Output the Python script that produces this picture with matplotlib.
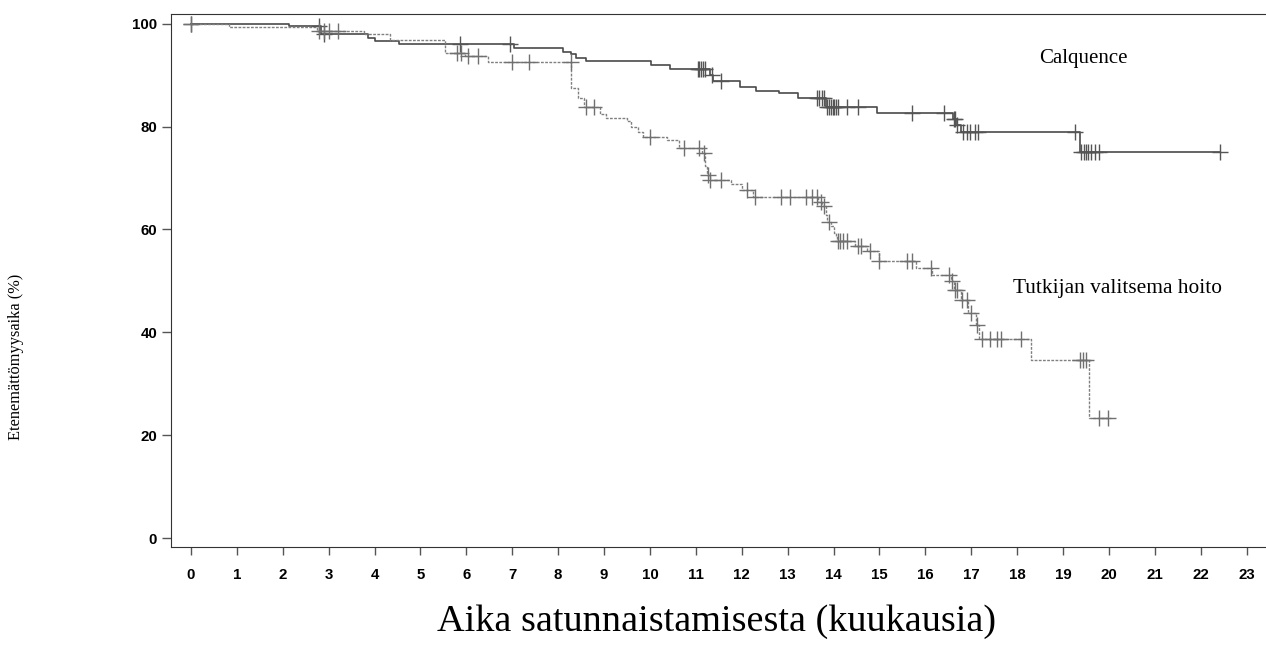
import numpy as np
import matplotlib
matplotlib.use('Agg')
import matplotlib.pyplot as plt

# Calquence (solid): event times (months) and survival (%)
calq_t = [0, 2.14, 2.83, 3.86, 4.0, 4.54, 7.03, 8.1, 8.27, 8.4, 8.6, 10.03, 10.43,
          11.3, 11.38, 11.97, 12.32, 12.82, 13.22, 13.83, 14.95, 16.6, 16.68, 16.77,
          19.37, 22.42]
calq_s = [100, 99.5, 98.0, 97.3, 96.6, 96.1, 95.3, 94.6, 94.2, 93.3, 92.8, 91.9, 91.3,
          90.0, 88.9, 87.8, 87.0, 86.5, 85.6, 83.9, 82.6, 81.4, 80.4, 78.9,
          75.0, 75.0]
calq_cens = [0, 2.8, 2.9, 5.87, 6.96, 11.04, 11.08, 11.12, 11.16, 11.2, 11.36, 11.54,
             13.63, 13.68, 13.74, 13.79, 13.86, 13.9, 13.94, 13.98, 14.02, 14.06, 14.1,
             14.3, 14.53, 15.7, 16.4, 16.62, 16.65, 16.7, 16.82, 16.9, 16.98, 17.08,
             17.15, 19.26, 19.4, 19.45, 19.5, 19.55, 19.62, 19.7, 19.78, 22.42]

# Tutkijan valitsema hoito (dashed)
tut_t = [0, 0.83, 2.75, 3.77, 4.33, 5.54, 5.98, 6.48, 8.29, 8.44, 8.57, 8.92, 9.05,
         9.49, 9.59, 9.75, 9.86, 10.38, 10.64, 11.14, 11.2, 11.24, 11.3, 11.76, 12.0,
         12.25, 13.66, 13.75, 13.83, 13.86, 13.94, 14.0, 14.05, 14.07, 14.46, 14.72,
         15.0, 15.79, 16.15, 16.55, 16.62, 16.77, 16.94, 17.1, 17.17, 18.31, 19.57, 20.05]
tut_s = [100, 99.3, 98.6, 98.0, 96.8, 94.4, 93.8, 92.5, 87.5, 85.6, 83.9, 82.5, 81.7,
         81.0, 80.0, 78.9, 77.9, 77.4, 75.9, 74.9, 72.3, 70.6, 69.6, 68.8, 67.7,
         66.4, 65.4, 64.6, 62.8, 61.5, 60.7, 59.3, 58.5, 57.7, 56.7, 55.9,
         53.9, 52.6, 51.2, 49.9, 48.2, 46.3, 43.7, 41.4, 38.7, 34.6, 23.3, 23.3]
tut_cens = [0, 2.8, 2.9, 3.0, 3.2, 5.79, 5.88, 6.03, 6.26, 7.0, 7.37, 8.27, 8.6, 8.79,
            10.0, 10.74, 11.06, 11.18, 11.26, 11.3, 11.54, 12.12, 12.28, 12.85, 13.06,
            13.41, 13.54, 13.65, 13.72, 13.8, 13.9, 14.1, 14.15, 14.2, 14.3, 14.53,
            14.59, 14.79, 15.0, 15.6, 15.7, 16.13, 16.51, 16.59, 16.64, 16.7, 16.8,
            16.9, 17.0, 17.13, 17.24, 17.42, 17.57, 17.64, 18.08, 19.37, 19.43, 19.5,
            19.78, 19.97]

x_ticks = list(range(0, 24))
y_ticks = [0, 20, 40, 60, 80, 100]


def surv_at(times, surv, cens):
    idx = np.searchsorted(times, cens, side='right') - 1
    return np.array(surv)[idx]


fig = plt.figure(figsize=(12.66, 6.57), dpi=100)
ax = fig.add_axes([0.135, 0.1674, 0.866, 0.8113])

ax.step(calq_t, calq_s, where='post', color='#4a4a4a', lw=1.2)
ax.step(tut_t, tut_s, where='post', color='#808080', lw=1.0, linestyle=(0, (2, 1)))
ax.plot(calq_cens, surv_at(calq_t, calq_s, calq_cens), '+', color='#555555',
        ms=12, mew=1.0)
ax.plot(tut_cens, surv_at(tut_t, tut_s, tut_cens), '+', color='#707070',
        ms=12, mew=1.0)

ax.set_xlim(-0.436, 23.45)
ax.set_ylim(-1.75, 101.9)
ax.set_xticks(x_ticks)
ax.set_yticks(y_ticks)
ax.spines['right'].set_visible(False)
for s in ax.spines.values():
    s.set_color('#333333')
ax.tick_params(axis='y', direction='out', length=6.5, width=1, color='#555555', pad=3.5)
ax.tick_params(axis='x', direction='out', length=6, width=1, color='#555555', pad=9)
for lab in ax.get_xticklabels() + ax.get_yticklabels():
    lab.set_fontfamily('Liberation Sans')
    lab.set_fontweight('bold')
    lab.set_fontsize(10.8)

ax.text(19.45, 93.3, 'Calquence', family='Liberation Serif', fontsize=15,
        ha='center', va='center')
ax.text(20.19, 48.6, 'Tutkijan valitsema hoito', family='Liberation Serif', fontsize=15.4,
        ha='center', va='center')

fig.text(0.566, 0.053, 'Aika satunnaistamisesta (kuukausia)', family='Liberation Serif',
         fontsize=27.5, ha='center', va='center')
fig.text(0.0125, 0.457, 'Etenemättömyysaika (%)', family='Liberation Serif',
         fontsize=11.8, rotation=90, ha='center', va='center')

fig.savefig('out.png', dpi=100)
